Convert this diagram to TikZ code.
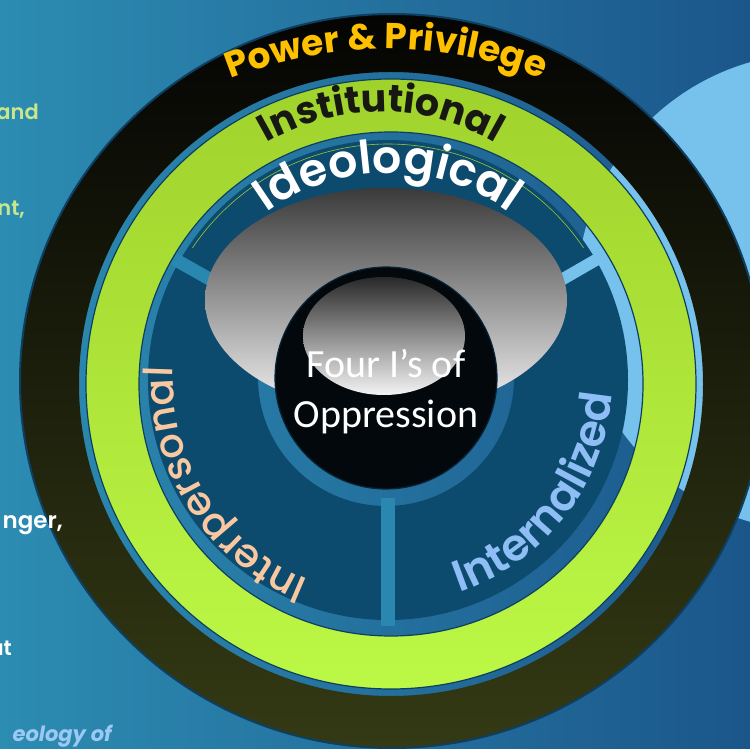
\documentclass[tikz,border=0pt]{standalone}
\usepackage{fontspec}
\setmainfont{Poppins}
\newfontfamily\calib{Carlito}
\newfontfamily\popmed{Poppins Medium}
\newfontfamily\popsemi{Poppins SemiBold}
\usetikzlibrary{decorations.text}

\definecolor{bgteal}{RGB}{44,140,178}
\definecolor{bgblue}{RGB}{27,86,138}
\definecolor{septeal}{RGB}{42,136,176}
\definecolor{lightcirc}{RGB}{118,194,236}
\definecolor{ringtop}{RGB}{4,4,3}
\definecolor{ringbot}{RGB}{52,58,20}
\definecolor{ringedge}{RGB}{14,62,96}
\definecolor{greentop}{RGB}{160,210,44}
\definecolor{greenbot}{RGB}{188,248,70}
\definecolor{segblue}{RGB}{12,74,110}
\definecolor{segline}{RGB}{150,200,50}
\definecolor{greytop}{RGB}{58,58,58}
\definecolor{greybot}{RGB}{244,244,244}
\definecolor{coreblack}{RGB}{2,8,12}
\definecolor{powerorange}{RGB}{255,192,0}
\definecolor{instblack}{RGB}{24,24,18}
\definecolor{peach}{RGB}{250,200,160}
\definecolor{skyblue}{RGB}{142,190,245}
\definecolor{sidegreen}{RGB}{200,230,140}
\definecolor{sideblue}{RGB}{156,200,244}

\tikzset{
  arctext/.style={decorate, decoration={text along path, text align=center,
      text format delimiters={|}{|}, text={#1}}},
  sidetext/.style={anchor=base east, inner sep=0pt, font=\popsemi\fontsize{21}{21}\selectfont},
  coretext/.style={anchor=base, inner sep=0pt, text=white, font=\calib\fontsize{40}{40}\selectfont},
}

\begin{document}
\begin{tikzpicture}[x=1pt, y=1pt]
  \useasboundingbox (0,0) rectangle (750,748);
  \clip (0,0) rectangle (750,748);
  % Background
  \shade[left color=bgteal, right color=bgblue] (0,0) rectangle (750,748);
  \fill[lightcirc] (816,456) circle (239);
  % Centres
  \coordinate (G) at (391,364);
  \coordinate (S) at (388,368);
  \coordinate (K) at (386,370);
  % Power & privilege ring
  \shade[top color=ringtop, bottom color=ringbot, even odd rule]
    (392,367) ellipse [x radius=372, y radius=367] (G) circle (312);
  \draw[ringedge, line width=2] (392,367) ellipse [x radius=372, y radius=367];
  % Institutional ring
  \shade[top color=greentop, bottom color=greenbot, even odd rule]
    (G) circle (305) (G) circle (252);
  \draw[ringedge, line width=1.2] (G) circle (305) (G) circle (252);
  % Segments
  \fill[segblue, even odd rule] (S) circle (240) (K) circle (128);
  \draw[segline, line width=0.6] (S) ++(34:236) arc[start angle=34, end angle=146, radius=236];
  \foreach \a/\c/\w in {150.5/septeal/13, 270/septeal/14, 30/lightcirc/12}
    \draw[\c, line width=\w] (S) ++(\a:118) -- ++(\a:128);
  % Lens and core
  \shade[top color=greytop, bottom color=greybot] (386,448) ellipse [x radius=181, y radius=112];
  \fill[coreblack] (K) circle (111);
  \draw[ringedge!60!black, line width=1.2] (K) circle (111);
  \shade[top color=greytop!70!black, bottom color=greybot] (384,412) ellipse [x radius=81, y radius=59];
  \node[coretext] (four) at (386,370) {Four I’s of};
  \node[coretext] (oppr) at (386,320) {Oppression};
  % Labels along the rings
  \path[arctext={|\bfseries\fontsize{36}{36}\selectfont\color{powerorange}|Power {\&} Privilege}]
    (386,279) ++(125:420) arc[start angle=125, end angle=55, radius=420];
  \path[arctext={|\bfseries\fontsize{38}{38}\selectfont\color{instblack}|Institutional}]
    (381,410) ++(150:226) arc[start angle=150, end angle=30, radius=226];
  \path[arctext={|\popsemi\fontsize{46}{46}\selectfont\color{white}|Ideological}]
    (S) ++(150:207) arc[start angle=150, end angle=30, radius=207];
  \path[arctext={|\popmed\fontsize{40}{40}\selectfont\color{peach}|Interpersonal}]
    (S) ++(262.5:215) arc[start angle=262.5, end angle=162.5, radius=215];
  \path[arctext={|\popsemi\fontsize{44}{44}\selectfont\color{skyblue}|Internalized}]
    (S) ++(-87.5:224) arc[start angle=-87.5, end angle=12.5, radius=224];
  % Cut-off side text
  \node[sidetext, text=sidegreen] (and) at (39,628) {and};
  \node[sidetext, text=sidegreen] (nt) at (25,532) {nt,};
  \node[sidetext, text=white, font=\popsemi\fontsize{23}{23}\selectfont] (nger) at (63,220) {nger,};
  \node[sidetext, text=white] (ut) at (12,93) {ut};
  \node[sidetext, text=sideblue, font=\bfseries\itshape\fontsize{21}{21}\selectfont] (eol) at (112,7) {eology of};
\end{tikzpicture}
\end{document}
